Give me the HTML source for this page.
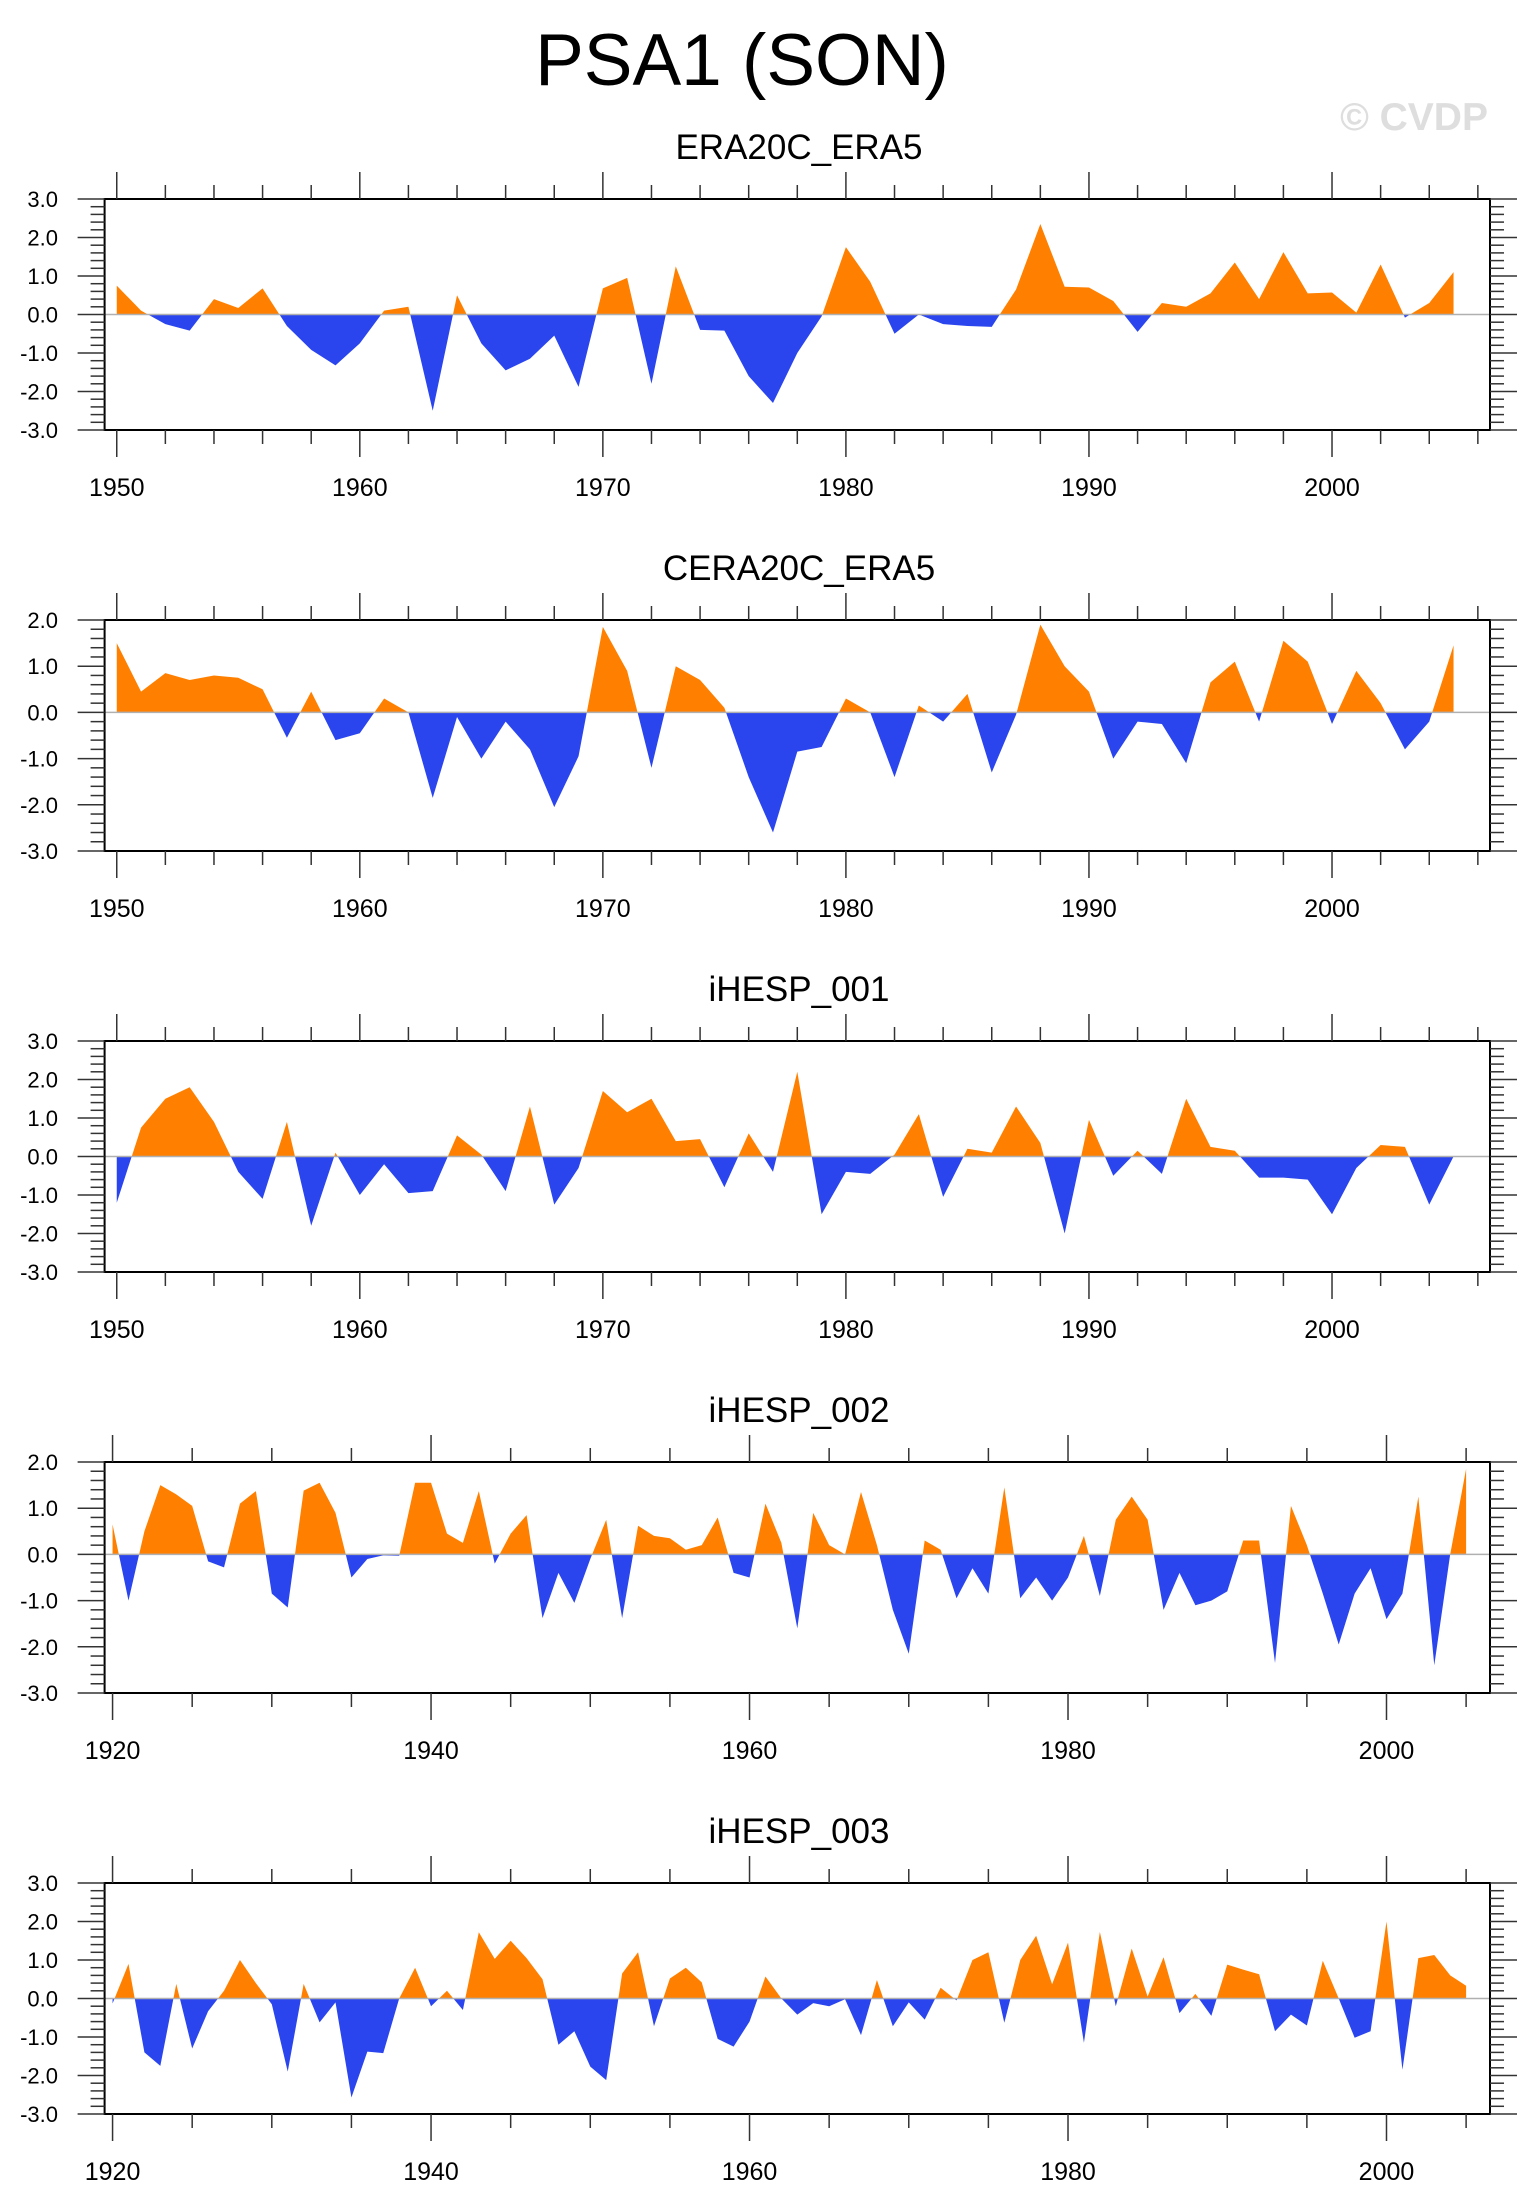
<!DOCTYPE html>
<html><head><meta charset="utf-8">
<style>
html,body{margin:0;padding:0;background:#fff;}
svg{display:block;font-family:"Liberation Sans",Arial,sans-serif;}
</style></head>
<body>
<svg id="chart" width="1533" height="2211" viewBox="0 0 1533 2211" xmlns="http://www.w3.org/2000/svg">
<text x="742" y="85" font-size="73" text-anchor="middle" fill="#000">PSA1 (SON)</text>
<text x="1488" y="130" font-size="39" font-weight="bold" text-anchor="end" fill="#dedede">© CVDP</text>
</svg>
<script>
const panelTitles = ["ERA20C_ERA5","CERA20C_ERA5","iHESP_001","iHESP_002","iHESP_003"];
const startYears = [1950,1950,1950,1920,1920];
const yMaxes = [3,2,3,2,3];
const era20cValues = [0.75,0.1,-0.25,-0.42,0.4,0.17,0.68,-0.3,-0.92,-1.32,-0.75,0.1,0.2,-2.5,0.5,-0.75,-1.45,-1.15,-0.55,-1.88,0.68,0.95,-1.8,1.25,-0.4,-0.42,-1.6,-2.3,-1.0,-0.05,1.75,0.85,-0.5,0.0,-0.25,-0.3,-0.32,0.65,2.35,0.72,0.7,0.35,-0.45,0.3,0.2,0.55,1.35,0.4,1.62,0.55,0.57,0.05,1.3,-0.08,0.3,1.1];
const cera20cValues = [1.5,0.45,0.85,0.7,0.8,0.75,0.5,-0.55,0.45,-0.6,-0.45,0.3,0.0,-1.85,-0.1,-1.0,-0.2,-0.8,-2.05,-0.95,1.85,0.9,-1.2,1.0,0.7,0.1,-1.4,-2.6,-0.85,-0.75,0.3,0.0,-1.4,0.15,-0.2,0.4,-1.3,-0.05,1.9,1.0,0.45,-1.0,-0.2,-0.25,-1.1,0.65,1.1,-0.2,1.55,1.1,-0.25,0.9,0.2,-0.8,-0.2,1.45];
const ihesp001Values = [-1.2,0.75,1.5,1.8,0.9,-0.4,-1.1,0.9,-1.8,0.1,-1.0,-0.2,-0.95,-0.9,0.55,0.05,-0.9,1.3,-1.25,-0.3,1.7,1.15,1.5,0.4,0.45,-0.8,0.6,-0.4,2.2,-1.5,-0.4,-0.45,0.05,1.1,-1.05,0.2,0.1,1.3,0.35,-2.0,0.95,-0.5,0.15,-0.45,1.5,0.25,0.15,-0.55,-0.55,-0.6,-1.5,-0.3,0.3,0.25,-1.25,0.0];
const ihesp002Values = [0.65,-1.0,0.5,1.5,1.3,1.05,-0.15,-0.28,1.1,1.37,-0.85,-1.15,1.38,1.55,0.9,-0.5,-0.1,-0.02,-0.03,1.55,1.55,0.45,0.25,1.37,-0.2,0.45,0.85,-1.38,-0.4,-1.05,-0.1,0.75,-1.38,0.62,0.4,0.35,0.1,0.2,0.8,-0.4,-0.5,1.1,0.25,-1.6,0.9,0.2,0.0,1.35,0.2,-1.2,-2.15,0.3,0.1,-0.95,-0.3,-0.85,1.45,-0.95,-0.5,-1.0,-0.5,0.4,-0.9,0.75,1.25,0.75,-1.2,-0.4,-1.1,-1.0,-0.8,0.3,0.3,-2.35,1.05,0.2,-0.85,-1.95,-0.85,-0.3,-1.4,-0.85,1.25,-2.4,0.0,1.85];
const ihesp003Values = [-0.13,0.9,-1.4,-1.75,0.38,-1.3,-0.33,0.2,1.0,0.4,-0.15,-1.9,0.38,-0.62,-0.1,-2.57,-1.38,-1.42,0.0,0.8,-0.2,0.2,-0.3,1.72,1.03,1.5,1.05,0.5,-1.2,-0.85,-1.77,-2.12,0.65,1.2,-0.72,0.52,0.8,0.42,-1.05,-1.25,-0.6,0.57,0.0,-0.42,-0.12,-0.2,-0.02,-0.95,0.48,-0.72,-0.1,-0.55,0.28,-0.05,1.0,1.2,-0.63,1.0,1.63,0.37,1.45,-1.15,1.73,-0.2,1.3,0.05,1.07,-0.38,0.12,-0.45,0.88,0.75,0.63,-0.85,-0.42,-0.7,0.98,0.0,-1.02,-0.85,2.0,-1.85,1.05,1.13,0.6,0.33];
const allValues = [era20cValues,cera20cValues,ihesp001Values,ihesp002Values,ihesp003Values];
const yTickLabels = ["3.0","2.0","1.0","0.0","-1.0","-2.0","-3.0"];

const NS = "http://www.w3.org/2000/svg";
const svg = document.getElementById('chart');
function mk(tag, attrs, parent){const e=document.createElementNS(NS,tag);for(const k in attrs)e.setAttribute(k,attrs[k]);(parent||svg).appendChild(e);return e;}

const X0=104.6, X1=1490, H=231, TOP0=199, STEP=421;
allValues.forEach((vals,p)=>{
  const top=TOP0+p*STEP, bot=top+H;
  const yMax=yMaxes[p], yMin=-3;
  const y0=startYears[p];
  const xMinYr=y0-0.5, xMaxYr=2006.5;
  const xs=yr=>X0+(yr-xMinYr)/(xMaxYr-xMinYr)*(X1-X0);
  const ys=v=>top+(yMax-v)/(yMax-yMin)*H;
  const g=mk('g',{});
  
  
  const t=mk('text',{x:799,y:top-40,'font-size':35,'text-anchor':'middle',fill:'#000'},g);
  t.textContent=panelTitles[p];
  
  
  // clip paths
  const defs=mk('defs',{},g);
  const cp=mk('clipPath',{id:'pos'+p},defs); mk('rect',{x:X0,y:top,width:X1-X0,height:ys(0)-top},cp);
  const cn=mk('clipPath',{id:'neg'+p},defs); mk('rect',{x:X0,y:ys(0),width:X1-X0,height:bot-ys(0)},cn);
  let pts=xs(y0).toFixed(2)+','+ys(0).toFixed(2)+' ';
  vals.forEach((v,i)=>{pts+=xs(y0+i).toFixed(2)+','+ys(v).toFixed(2)+' ';});
  pts+=xs(y0+vals.length-1).toFixed(2)+','+ys(0).toFixed(2);
  const a1=mk('polygon',{points:pts,fill:'#ff8000','clip-path':'url(#pos'+p+')'},g);
  
  
  const a2=mk('polygon',{points:pts,fill:'#2a45ee','clip-path':'url(#neg'+p+')'},g);
  
  
  const zl=mk('line',{x1:X0,x2:X1,y1:ys(0),y2:ys(0),stroke:'#b0b0b0','stroke-width':1.5},g);
  
  
  const fr=mk('rect',{x:X0,y:top,width:X1-X0,height:H,fill:'none',stroke:'#000','stroke-width':2},g);
  
  
  // y ticks
  for(let k=0;k<=(yMax-yMin)*5;k++){
    const v=yMin+k*0.2; const y=ys(v); const major=(k%5===0);
    const L=major?27:14;
    mk('line',{x1:X0-L,x2:X0,y1:y,y2:y,stroke:'#333','stroke-width':1.5},g);
    mk('line',{x1:X1,x2:X1+L,y1:y,y2:y,stroke:'#333','stroke-width':1.5},g);
  }
  yTickLabels.forEach(s=>{
    const v=parseFloat(s); if(v>yMax) return;
    const tl=mk('text',{x:58,y:ys(v)+8,'font-size':22,'text-anchor':'end',fill:'#000'},g);
    tl.textContent=s;
    
    
  });
  // x ticks
  const majorStep=y0===1920?20:10, minorStep=y0===1920?5:2;
  for(let yr=y0;yr<=2006;yr+=minorStep){
    const x=xs(yr); const major=((yr-y0)%majorStep===0); const L=major?27:14;
    mk('line',{x1:x,x2:x,y1:top-L,y2:top,stroke:'#333','stroke-width':1.5},g);
    mk('line',{x1:x,x2:x,y1:bot,y2:bot+L,stroke:'#333','stroke-width':1.5},g);
    if(major){
      const xl=mk('text',{x:x,y:bot+66,'font-size':25,'text-anchor':'middle',fill:'#000'},g);
      xl.textContent=String(yr);
      
      
    }
  }
});
</script>
</body></html>
